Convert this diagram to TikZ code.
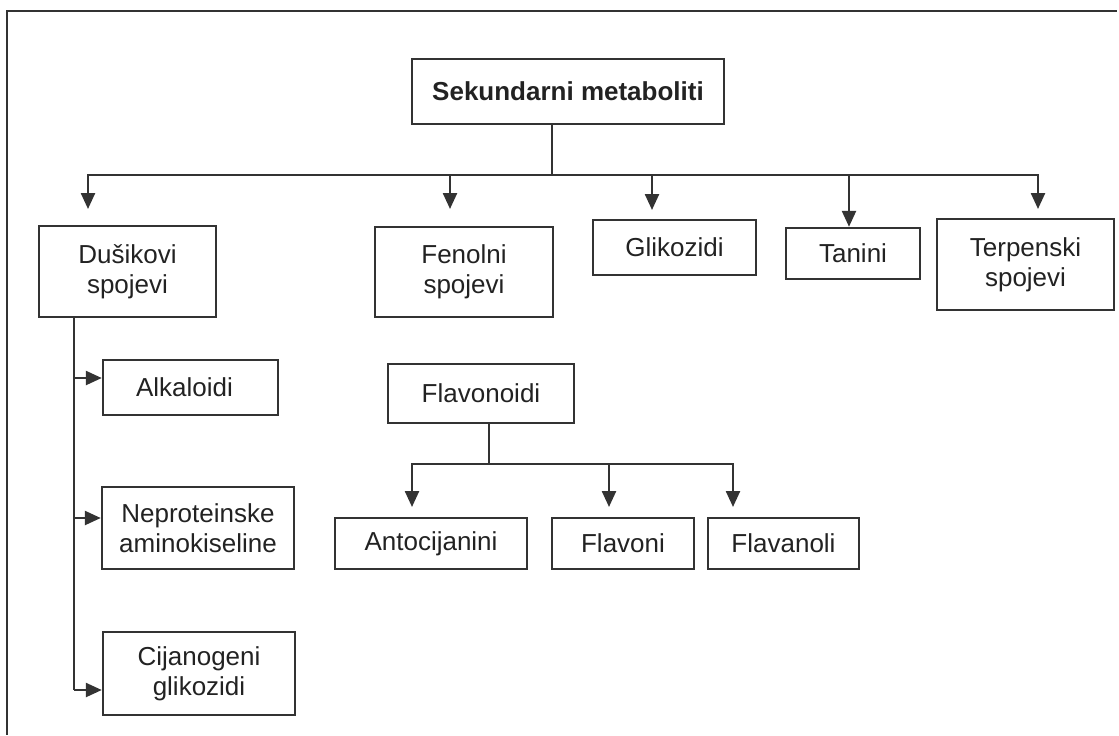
\documentclass[tikz,border=0pt]{standalone}
\usepackage{fontspec}
\setmainfont{Liberation Sans}
\usetikzlibrary{positioning,arrows.meta}

\definecolor{crta}{HTML}{333333}
\definecolor{tekst}{HTML}{222222}

\tikzset{
  kutija/.style={rectangle, draw=crta, line width=1.2pt, align=center, text=tekst,
    font=\fontsize{13}{15}\selectfont, inner sep=0pt},
  linija/.style={draw=crta, line width=1.2pt},
  strelica/.style={linija, -{Triangle[width=7pt,length=8pt]}}
}

\begin{document}
\begin{tikzpicture}[x=0.5pt, y=-0.5pt]
\useasboundingbox (0,0) rectangle (1119,735);
%% okvir
\draw[linija] (6,11) -- (1117,11);
\draw[linija] (7,11) -- (7,735);

%% Nodes definition
\node[kutija, minimum width=156pt, minimum height=32.5pt, font=\fontsize{13}{15}\selectfont\bfseries] (metab) at (568,91.5) {Sekundarni metaboliti};
\node[kutija, minimum width=88.5pt, minimum height=45.5pt] (dusik) at (127.5,271.5) {Dušikovi\\spojevi};
\node[kutija, minimum width=89pt, minimum height=45pt] (fenol) at (464,272) {Fenolni\\spojevi};
\node[kutija, minimum width=81.5pt, minimum height=27.5pt] (gliko) at (674.5,247.5) {Glikozidi};
\node[kutija, minimum width=67pt, minimum height=25.5pt] (tanin) at (853,253.5) {Tanini};
\node[kutija, minimum width=88.5pt, minimum height=45.5pt] (terpen) at (1025.5,264.5) {Terpenski\\spojevi};
\node[kutija, minimum width=87.5pt, minimum height=27.5pt] (alkal) at (190.5,387.5) {Alkaloidi\hspace{6pt}};
\node[kutija, minimum width=96pt, minimum height=41pt] (neprot) at (198,528) {Neproteinske\\aminokiseline};
\node[kutija, minimum width=96pt, minimum height=41.5pt] (cijan) at (199,673.5) {Cijanogeni\\glikozidi};
\node[kutija, minimum width=93pt, minimum height=29.5pt] (flavon) at (481,393.5) {Flavonoidi};
\node[kutija, minimum width=96pt, minimum height=25.5pt] (antoc) at (431,543.5) {Antocijanini};
\node[kutija, minimum width=71pt, minimum height=25.5pt] (flavoni) at (623,543.5) {Flavoni};
\node[kutija, minimum width=75.5pt, minimum height=25.5pt] (flavanol) at (783.5,543.5) {Flavanoli};

%% Coordinates
\coordinate (razdjel) at (552,175);
\coordinate (vrh_dusik) at (88,209);
\coordinate (vrh_fenol) at (450,209);
\coordinate (vrh_gliko) at (652,210);
\coordinate (vrh_terpen) at (1038,209);
\coordinate (okomica) at (74,690);
\coordinate (do_alkal) at (74,378);
\coordinate (do_neprot) at (74,518);
\coordinate (flav_razdjel) at (489,464);
\coordinate (vrh_antoc) at (412,507);
\coordinate (vrh_flavoni) at (609,507);
\coordinate (vrh_flavanol) at (733,507);

%% Edges definition
\draw[linija] (razdjel |- metab.south) -- (razdjel);
\draw[strelica] (razdjel) -| (vrh_dusik);
\draw[strelica] (razdjel) -| (vrh_fenol);
\draw[strelica] (razdjel) -| (vrh_gliko);
\draw[strelica] (razdjel) -| ([xshift=-2pt]tanin.north);
\draw[strelica] (razdjel) -| (vrh_terpen);

\draw[linija] (okomica |- dusik.south) -- (okomica);
\draw[strelica] (do_alkal) -- (do_alkal -| alkal.west);
\draw[strelica] (do_neprot) -- (do_neprot -| neprot.west);
\draw[strelica] (okomica) -- (okomica -| cijan.west);

\draw[linija] (flav_razdjel |- flavon.south) -- (flav_razdjel);
\draw[strelica] (flav_razdjel) -| (vrh_antoc);
\draw[strelica] (flav_razdjel) -| (vrh_flavoni);
\draw[strelica] (flav_razdjel) -| (vrh_flavanol);
\end{tikzpicture}
\end{document}
